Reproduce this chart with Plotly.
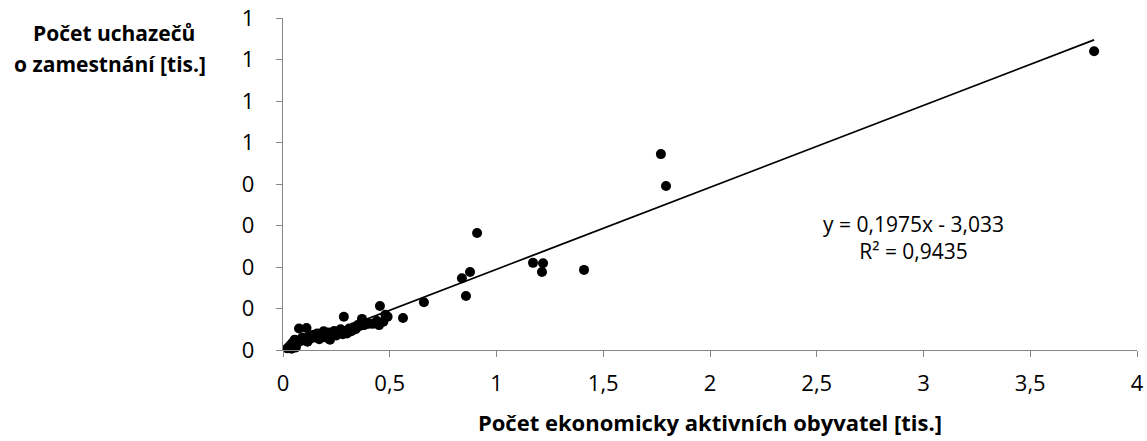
import numpy as np
import plotly.graph_objects as go

# Data (thousands)
x_vals = [0.02, 0.03, 0.035, 0.04, 0.045, 0.05, 0.055, 0.06, 0.065, 0.07,
          0.075, 0.085, 0.09, 0.10, 0.11, 0.115, 0.12, 0.13, 0.14, 0.15,
          0.16, 0.17, 0.18, 0.19, 0.20, 0.21, 0.22, 0.23, 0.24, 0.25,
          0.26, 0.27, 0.28, 0.285, 0.29, 0.30, 0.31, 0.32, 0.33, 0.34,
          0.35, 0.36, 0.37, 0.38, 0.40, 0.42, 0.44, 0.45, 0.454, 0.47,
          0.48, 0.49, 0.562, 0.660, 0.838, 0.857, 0.876, 0.909, 1.171, 1.218,
          1.213, 1.41, 1.770, 1.794, 3.799]
y_vals = [0.004, 0.008, 0.012, 0.003, 0.018, 0.010, 0.025, 0.006, 0.015, 0.020,
          0.052, 0.022, 0.030, 0.025, 0.053, 0.020, 0.032, 0.028, 0.036, 0.030,
          0.040, 0.026, 0.035, 0.045, 0.030, 0.042, 0.025, 0.038, 0.046, 0.035,
          0.042, 0.050, 0.038, 0.080, 0.045, 0.040, 0.052, 0.045, 0.055, 0.050,
          0.060, 0.058, 0.075, 0.060, 0.063, 0.063, 0.070, 0.060, 0.106, 0.068,
          0.085, 0.080, 0.077, 0.115, 0.173, 0.130, 0.188, 0.282, 0.210, 0.209,
          0.188, 0.193, 0.472, 0.395, 0.720]

# Trendline coefficients (as shown in the equation; intercept in persons -> thousands)
slope = 0.1975
intercept = -3.033 / 1000.0

x_tickvals = [0, 0.5, 1, 1.5, 2, 2.5, 3, 3.5, 4]
x_ticktext = ["0", "0,5", "1", "1,5", "2", "2,5", "3", "3,5", "4"]
y_tickvals = [0, 0.1, 0.2, 0.3, 0.4, 0.5, 0.6, 0.7, 0.8]
y_ticktext = ["0", "0", "0", "0", "0", "1", "1", "1", "1"]

FONT = "Open Sans"
FS = 22

trend_x = np.array([min(x_vals), max(x_vals)])
trend_y = slope * trend_x + intercept

fig = go.Figure()
fig.add_trace(go.Scatter(x=trend_x, y=trend_y, mode="lines",
                         line=dict(color="black", width=1.8),
                         hoverinfo="skip", showlegend=False, cliponaxis=False))
fig.add_trace(go.Scatter(x=x_vals, y=y_vals, mode="markers",
                         marker=dict(color="black", size=10),
                         showlegend=False, cliponaxis=False))

axis_common = dict(showgrid=False, zeroline=False, showline=True,
                   linecolor="#868686", linewidth=1.3, ticks="outside",
                   ticklen=6, tickcolor="#868686", tickwidth=1.3,
                   automargin=False,
                   tickfont=dict(family=FONT, size=FS, color="black"))

def px_x(p):
    return (p - 283) / 854.0

def px_y(p):
    return (350 - p) / 332.0

fig.update_layout(
    width=1147, height=441,
    margin=dict(l=283, r=10, t=18, b=91),
    plot_bgcolor="white", paper_bgcolor="white",
    xaxis=dict(range=[0, 4], tickmode="array", tickvals=x_tickvals,
               ticktext=x_ticktext, ticklabelstandoff=7,
               title=dict(text="<b>Počet ekonomicky aktivních obyvatel [tis.]</b>",
                          font=dict(family=FONT, size=22, color="black"),
                          standoff=20),
               **axis_common),
    yaxis=dict(range=[0, 0.8], tickmode="array", tickvals=y_tickvals,
               ticktext=y_ticktext, ticklabelstandoff=17, **axis_common),
    annotations=[
        dict(text="<b>Počet uchazečů</b>",
             xref="paper", yref="paper", x=px_x(114), y=px_y(33),
             xanchor="center", yanchor="middle", showarrow=False,
             font=dict(family=FONT, size=21, color="black")),
        dict(text="<b>o zamestnání [tis.]</b>",
             xref="paper", yref="paper", x=px_x(110), y=px_y(64),
             xanchor="center", yanchor="middle", showarrow=False,
             font=dict(family=FONT, size=21, color="black")),
        dict(text="y = 0,1975x - 3,033<br>R² = 0,9435",
             xref="paper", yref="paper", x=px_x(913), y=px_y(237),
             xanchor="center", yanchor="middle", showarrow=False,
             align="center",
             font=dict(family=FONT, size=21, color="black")),
    ],
)

fig.write_html("out.html")
